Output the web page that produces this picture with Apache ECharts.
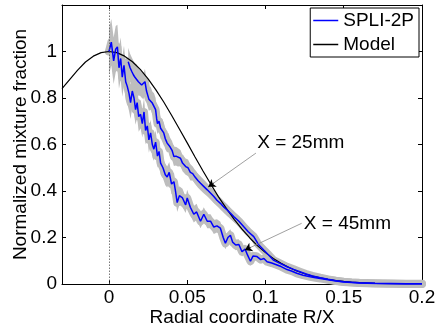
<!DOCTYPE html>
<html><head><meta charset="utf-8">
<script src="https://cdn.jsdelivr.net/npm/echarts@6/dist/echarts.min.js"></script>
<style>html,body{margin:0;padding:0;background:#fff}#c{width:435px;height:329px}</style>
</head><body><div id="c"></div>
<script>
const xTicks = [0, 0.05, 0.1, 0.15, 0.2];
const yTicks = [0, 0.2, 0.4, 0.6, 0.8, 1];
const legendNames = ['SPLI-2P', 'Model'];

// Model curve [R/X, value]
const model = [
[-0.03,0.84],[-0.025,0.88],[-0.02,0.92],[-0.015,0.955],[-0.01,0.98],[-0.005,0.995],[0,1.0],
[0.005,0.995],[0.01,0.98],[0.015,0.956],[0.02,0.923],[0.025,0.882],[0.03,0.835],[0.035,0.783],
[0.04,0.726],[0.045,0.667],[0.05,0.607],[0.055,0.546],[0.06,0.487],[0.065,0.43],[0.07,0.375],
[0.075,0.325],[0.08,0.278],[0.085,0.236],[0.09,0.198],[0.095,0.164],[0.1,0.135],[0.105,0.11],
[0.11,0.089],[0.115,0.071],[0.12,0.056],[0.125,0.044],[0.13,0.034],[0.135,0.026],[0.14,0.02],
[0.145,0.015],[0.15,0.011],[0.155,0.008],[0.16,0.006],[0.17,0.003],[0.18,0.0015],[0.19,0.0007],[0.2,0.0003]
];

// SPLI-2P, X = 25mm  [R/X, value, uncertainty]
const spli25 = [
[0.0123,0.956,0.06],[0.0135,0.93,0.06],[0.0145,0.915,0.06],[0.0156,0.90,0.06],[0.0166,0.889,0.06],
[0.0177,0.885,0.06],[0.0188,0.87,0.06],[0.0198,0.865,0.055],[0.0209,0.856,0.055],[0.022,0.85,0.055],
[0.023,0.87,0.055],[0.024,0.83,0.05],[0.0255,0.795,0.05],[0.0266,0.80,0.05],[0.0277,0.778,0.05],
[0.0288,0.77,0.05],[0.0298,0.75,0.05],[0.0305,0.71,0.05],[0.031,0.69,0.045],[0.032,0.70,0.045],
[0.033,0.67,0.045],[0.034,0.665,0.045],[0.035,0.65,0.045],[0.036,0.625,0.045],[0.0372,0.606,0.04],
[0.038,0.61,0.04],[0.039,0.59,0.04],[0.0403,0.575,0.04],[0.0415,0.548,0.04],[0.0428,0.55,0.04],
[0.044,0.545,0.04],[0.0457,0.541,0.035],[0.047,0.52,0.035],[0.049,0.505,0.035],[0.0505,0.50,0.035],
[0.052,0.48,0.035],[0.0535,0.475,0.03],[0.055,0.46,0.03],[0.0568,0.445,0.03],[0.0585,0.433,0.03],
[0.0605,0.42,0.03],[0.0628,0.405,0.028],[0.065,0.39,0.028],[0.067,0.376,0.028],[0.069,0.36,0.025],
[0.0712,0.347,0.025],[0.0735,0.33,0.025],[0.0755,0.318,0.025],[0.0775,0.305,0.022],[0.0797,0.29,0.022],
[0.083,0.27,0.022],[0.086,0.247,0.02],[0.089,0.225,0.02],[0.0925,0.204,0.02],[0.0955,0.17,0.018],
[0.0989,0.146,0.018],[0.102,0.125,0.016],[0.105,0.103,0.015],[0.109,0.09,0.014],[0.1138,0.074,0.013],
[0.118,0.063,0.012],[0.122,0.053,0.011],[0.126,0.043,0.01],[0.13,0.035,0.01],[0.135,0.027,0.009],
[0.14,0.02,0.008],[0.145,0.014,0.008],[0.15,0.01,0.007],[0.155,0.007,0.006],[0.16,0.005,0.006],
[0.17,0.003,0.005],[0.18,0.002,0.005],[0.19,0.001,0.004],[0.2,0.001,0.004]
];

// SPLI-2P, X = 45mm  [R/X, value, uncertainty]
const spli45 = [
[0.000,1.00,0.1],[0.0015,1.04,0.1],[0.003,0.96,0.1],[0.0043,1.01,0.1],[0.0054,1.02,0.095],
[0.0064,0.93,0.09],[0.0075,0.97,0.09],[0.0085,0.89,0.085],[0.0096,0.94,0.085],[0.0107,0.87,0.08],
[0.0117,0.85,0.075],[0.0128,0.82,0.075],[0.0138,0.78,0.07],[0.0149,0.83,0.07],[0.016,0.80,0.07],
[0.017,0.75,0.065],[0.018,0.78,0.065],[0.019,0.72,0.065],[0.0202,0.73,0.06],[0.0213,0.69,0.06],
[0.0224,0.74,0.06],[0.0234,0.66,0.06],[0.0245,0.68,0.055],[0.0255,0.62,0.055],[0.0266,0.65,0.055],
[0.0277,0.60,0.055],[0.0287,0.58,0.05],[0.0298,0.61,0.05],[0.031,0.55,0.05],[0.032,0.57,0.05],
[0.033,0.52,0.05],[0.0345,0.50,0.045],[0.036,0.47,0.045],[0.0372,0.46,0.045],[0.0385,0.48,0.045],
[0.040,0.43,0.045],[0.0415,0.44,0.04],[0.0425,0.40,0.04],[0.0436,0.35,0.04],[0.045,0.38,0.04],
[0.047,0.37,0.04],[0.049,0.34,0.035],[0.050,0.37,0.035],[0.052,0.33,0.035],[0.0542,0.30,0.035],
[0.056,0.31,0.035],[0.0585,0.27,0.03],[0.0606,0.30,0.03],[0.0628,0.27,0.03],[0.0649,0.27,0.03],
[0.067,0.245,0.03],[0.069,0.25,0.028],[0.0712,0.24,0.028],[0.073,0.20,0.026],[0.0744,0.175,0.025],
[0.076,0.20,0.025],[0.0776,0.21,0.025],[0.079,0.18,0.024],[0.081,0.168,0.023],[0.083,0.17,0.022],
[0.085,0.139,0.021],[0.087,0.15,0.02],[0.0885,0.125,0.02],[0.0904,0.098,0.019],[0.092,0.12,0.018],
[0.0946,0.118,0.018],[0.097,0.105,0.017],[0.099,0.11,0.016],[0.101,0.096,0.015],[0.104,0.09,0.014],
[0.1074,0.082,0.013],[0.110,0.075,0.012],[0.1138,0.062,0.012],[0.117,0.055,0.011],[0.120,0.046,0.01],
[0.124,0.038,0.01],[0.1286,0.031,0.009],[0.132,0.027,0.009],[0.135,0.024,0.008],[0.14,0.018,0.008],
[0.145,0.013,0.007],[0.15,0.009,0.007],[0.155,0.006,0.006],[0.16,0.004,0.006],[0.17,0.002,0.005],
[0.18,0.001,0.005],[0.19,0.0005,0.004],[0.2,0.0003,0.004]
];

const FONT = 'Liberation Sans, Arial, sans-serif';
const GRAY = '#bdbdbd';

function bandSeries(d) {
  return [{
    type: 'custom', data: [0], silent: true, z: 1, clip: true,
    renderItem: function (params, api) {
      const up = d.map(p => api.coord([p[0], p[1] + p[2]]));
      const lo = d.map(p => api.coord([p[0], Math.max(0, p[1] - p[2])])).reverse();
      return { type: 'polygon', shape: { points: up.concat(lo) }, style: { fill: GRAY } };
    }
  }, {
    type: 'line', data: d.map(p => [p[0], p[1]]), symbol: 'none', silent: true, z: 1,
    lineStyle: { color: GRAY, width: 8, join: 'round', cap: 'round' }
  }];
}

const chart = echarts.init(document.getElementById('c'), null, { renderer: 'canvas' });
const axisCommon = {
  type: 'value', min: -0.03, max: 0.2,
  axisLine: { show: true, onZero: false, lineStyle: { color: '#000', width: 1 } },
  splitLine: { show: false },
  axisTick: { show: true, inside: true, length: 4, customValues: xTicks, lineStyle: { color: '#000' } }
};
const yCommon = {
  type: 'value', min: 0, max: 1.2,
  axisLine: { show: true, onZero: false, lineStyle: { color: '#000', width: 1 } },
  splitLine: { show: false },
  axisTick: { show: true, inside: true, length: 4, customValues: yTicks, lineStyle: { color: '#000' } }
};

chart.setOption({
  animation: false,
  textStyle: { fontFamily: FONT },
  grid: { left: 62, right: 13, top: 5, bottom: 45, containLabel: false, outerBoundsMode: 'none' },
  legend: {
    data: legendNames, orient: 'vertical', right: 16, top: 8, icon: 'rect',
    padding: [3, 5, 3, 3], itemGap: 5, itemWidth: 25, itemHeight: 1.5,
    borderColor: '#000', borderWidth: 1, backgroundColor: '#fff',
    textStyle: { fontSize: 19, color: '#000', fontFamily: FONT }, selectedMode: false
  },
  xAxis: [
    Object.assign({}, axisCommon, {
      position: 'bottom',
      name: 'Radial coordinate R/X', nameLocation: 'middle', nameGap: 24, nameMoveOverlap: false,
      nameTextStyle: { fontSize: 19, color: '#000', fontFamily: FONT },
      axisLabel: { show: true, customValues: xTicks, margin: 4, fontSize: 19, color: '#000', fontFamily: FONT }
    }),
    Object.assign({}, axisCommon, { position: 'top', axisLabel: { show: false } })
  ],
  yAxis: [
    Object.assign({}, yCommon, {
      position: 'left',
      name: 'Normalized mixture fraction', nameLocation: 'middle', nameGap: 32, nameMoveOverlap: false,
      nameTextStyle: { fontSize: 19, color: '#000', fontFamily: FONT },
      axisLabel: { show: true, customValues: yTicks, margin: 5, fontSize: 19, color: '#000', fontFamily: FONT }
    }),
    Object.assign({}, yCommon, { position: 'right', axisLabel: { show: false } })
  ],
  series: [
    ...bandSeries(spli25),
    ...bandSeries(spli45),
    {
      type: 'line', name: 'Model', data: model, symbol: 'none', z: 3,
      lineStyle: { color: '#000', width: 1.2 }, itemStyle: { color: '#000' },
      markLine: {
        silent: true, animation: false, label: { show: false },
        data: [
          [{ coord: [0, 0], symbol: 'none', lineStyle: { color: '#555', width: 0.8, type: [1.5, 1.5] } },
           { coord: [0, 1.2], symbol: 'none' }],
          [{ coord: [0.0939, 0.563], symbol: 'none', lineStyle: { color: '#888', width: 0.8, type: 'solid' } },
           { coord: [0.0635, 0.418], symbol: 'none' }],
          [{ coord: [0.067, 0.434], symbol: 'none', lineStyle: { color: '#000', width: 0.8, type: 'solid' } },
           { coord: [0.0635, 0.418], symbol: 'arrow', symbolSize: 7 }],
          [{ coord: [0.1231, 0.261], symbol: 'none', lineStyle: { color: '#888', width: 0.8, type: 'solid' } },
           { coord: [0.0869, 0.146], symbol: 'none' }],
          [{ coord: [0.0905, 0.1575], symbol: 'none', lineStyle: { color: '#000', width: 0.8, type: 'solid' } },
           { coord: [0.0869, 0.146], symbol: 'arrow', symbolSize: 7 }]
        ]
      },
      markPoint: {
        silent: true, animation: false, symbol: 'circle', symbolSize: 1, itemStyle: { color: 'rgba(0,0,0,0)' },
        label: { show: true, position: 'right', distance: 0, fontSize: 19, color: '#000', fontFamily: FONT },
        data: [
          { coord: [0.0944, 0.606], label: { formatter: 'X = 25mm' } },
          { coord: [0.1242, 0.261], label: { formatter: 'X = 45mm' } }
        ]
      }
    },
    { type: 'line', name: 'SPLI-2P', data: spli25.map(p => [p[0], p[1]]), symbol: 'none', z: 4,
      lineStyle: { color: '#0000ff', width: 1.5 }, itemStyle: { color: '#0000ff' } },
    { type: 'line', name: 'SPLI-2P', data: spli45.map(p => [p[0], p[1]]), symbol: 'none', z: 4,
      lineStyle: { color: '#0000ff', width: 1.5 }, itemStyle: { color: '#0000ff' } }
  ]
});
</script></body></html>
